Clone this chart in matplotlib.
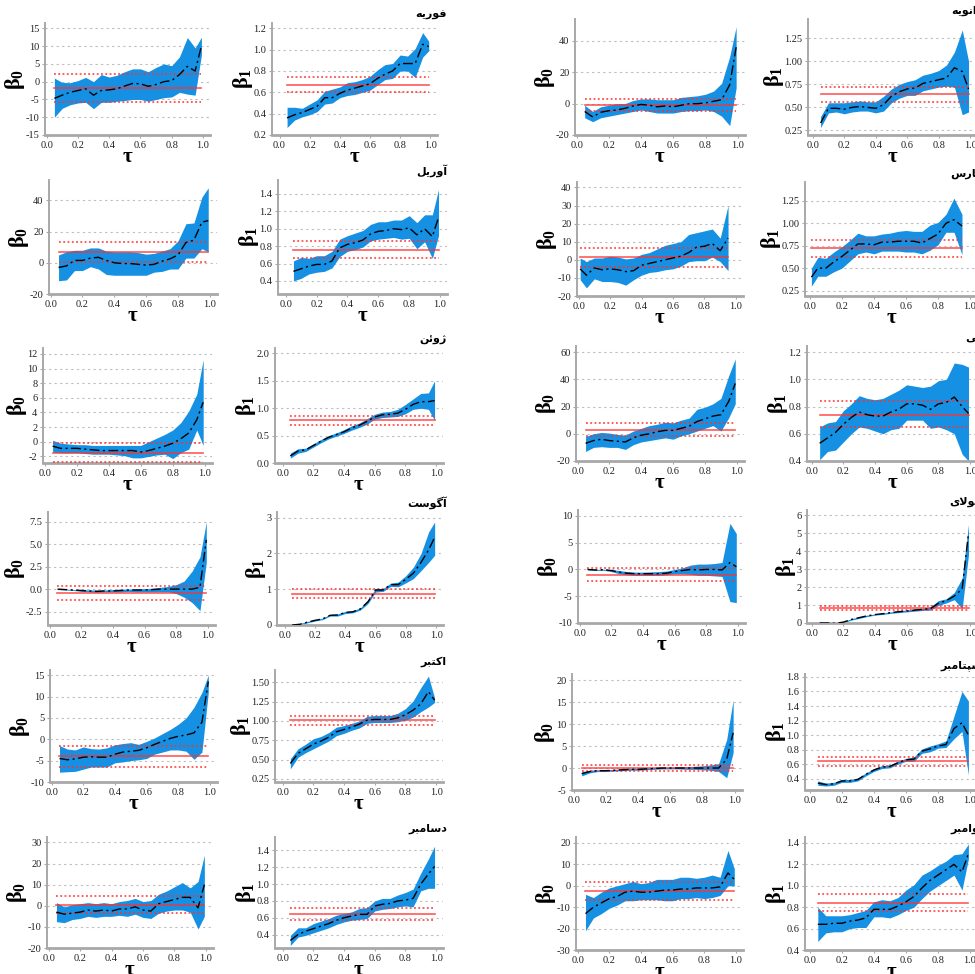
import numpy as np
import matplotlib.pyplot as plt

plt.rcParams["font.family"] = "Liberation Serif"
plt.rcParams["mathtext.fontset"] = "custom"
plt.rcParams["mathtext.rm"] = "Liberation Serif"
plt.rcParams["mathtext.bf"] = "Liberation Serif:bold"
plt.rcParams["mathtext.it"] = "Liberation Serif:italic"

# quantile grid
taus = [0.05, 0.10, 0.15, 0.20, 0.25, 0.30, 0.35, 0.40, 0.45, 0.50,
        0.55, 0.60, 0.65, 0.70, 0.75, 0.80, 0.85, 0.90, 0.95, 0.99]
taus_mar = [0.01, 0.05, 0.10, 0.15, 0.20, 0.25, 0.30, 0.35, 0.40, 0.45,
            0.50, 0.55, 0.60, 0.65, 0.70, 0.75, 0.80, 0.85, 0.90, 0.95]

# month names (Arabic presentation forms, visual order)
month_names = {
    "jan": "\uFEEA\uFEF3\uFEEE\uFEE7\uFE8D\uFB8A",
    "feb": "\uFEEA\uFEF3\uFEAD\uFEEE\uFED3",
    "mar": "\uFEB1\uFEAD\uFE8E\uFEE3",
    "apr": "\uFEDE\uFEF3\uFEAD\uFEED\uFE81",
    "may": "\uFEF0\uFEE3",
    "jun": "\uFEE6\uFE8B\uFEED\uFB8A",
    "jul": "\uFEEF\uFEFB\uFEEE\uFE9F",
    "aug": "\uFE96\uFEB3\uFEEE\uFB94\uFE81",
    "sep": "\uFEAE\uFE92\uFEE3\uFE8E\uFE98\uFB59\uFEB3",
    "oct": "\uFEAE\uFE92\uFE98\uFB90\uFE8D",
    "nov": "\uFEAE\uFE92\uFEE3\uFE8D\uFEEE\uFEE7",
    "dec": "\uFEAE\uFE92\uFEE3\uFE8E\uFEB3\uFEA9",
}

# quantile estimates, lower / upper bands, OLS [estimate, lower, upper]
feb_b0_q = [-4.7, -3.8, -3.0, -2.5, -2.0, -3.8, -2.5, -2.3, -2.0, -1.2, -0.5, -0.6, -1.3, -0.8, 0.0, 0.3, 2.0, 4.3, 3.0, 10.0]
feb_b0_lo = [-10.0, -7.5, -6.5, -6.0, -5.8, -7.6, -5.8, -5.8, -5.5, -5.3, -5.0, -5.0, -5.5, -5.0, -4.5, -4.3, -3.0, -3.5, -3.8, 7.5]
feb_b0_hi = [1.0, -0.2, -0.3, 0.3, 1.2, 0.0, 2.0, 1.3, 1.8, 2.8, 3.6, 3.6, 2.8, 4.0, 5.0, 4.5, 7.0, 12.4, 9.5, 12.5]
feb_b0_ols = [-1.8, -5.6, 2.2]

feb_b1_q = [0.36, 0.39, 0.41, 0.44, 0.47, 0.55, 0.55, 0.59, 0.62, 0.64, 0.66, 0.68, 0.73, 0.77, 0.80, 0.87, 0.87, 0.87, 1.05, 1.03]
feb_b1_lo = [0.27, 0.34, 0.37, 0.39, 0.42, 0.49, 0.50, 0.55, 0.57, 0.58, 0.60, 0.62, 0.67, 0.72, 0.73, 0.80, 0.80, 0.74, 0.93, 0.99]
feb_b1_hi = [0.46, 0.46, 0.45, 0.49, 0.53, 0.61, 0.63, 0.65, 0.69, 0.70, 0.72, 0.75, 0.81, 0.86, 0.87, 0.95, 0.94, 1.01, 1.16, 1.08]
feb_b1_ols = [0.67, 0.60, 0.74]

jan_b0_q = [-5.0, -8.5, -5.5, -4.5, -4.0, -3.0, -1.5, -0.5, -1.0, -2.0, -1.5, -2.0, -1.0, 0.0, 0.0, 0.5, 1.5, 2.5, 12.0, 36.0]
jan_b0_lo = [-9.0, -11.5, -9.0, -8.0, -7.0, -6.0, -5.0, -4.0, -5.0, -6.0, -6.0, -6.0, -5.0, -4.5, -4.5, -4.0, -5.0, -8.0, -14.0, 10.0]
jan_b0_hi = [-1.0, -5.0, -2.0, -1.0, 0.0, 0.0, 2.0, 3.0, 3.0, 2.5, 2.5, 2.5, 4.0, 4.5, 5.0, 6.0, 8.0, 13.0, 30.0, 49.0]
jan_b0_ols = [-1.0, -5.0, 3.0]

jan_b1_q = [0.33, 0.49, 0.49, 0.48, 0.50, 0.51, 0.50, 0.49, 0.53, 0.62, 0.67, 0.70, 0.71, 0.76, 0.78, 0.80, 0.82, 0.93, 0.89, 0.70]
jan_b1_lo = [0.28, 0.44, 0.45, 0.43, 0.45, 0.46, 0.46, 0.44, 0.46, 0.55, 0.60, 0.63, 0.63, 0.68, 0.70, 0.72, 0.73, 0.72, 0.42, 0.45]
jan_b1_hi = [0.40, 0.55, 0.55, 0.55, 0.56, 0.57, 0.56, 0.56, 0.62, 0.70, 0.75, 0.78, 0.80, 0.85, 0.87, 0.90, 0.96, 1.10, 1.34, 1.00]
jan_b1_ols = [0.64, 0.56, 0.72]

apr_b0_q = [-3.0, -2.0, 1.5, 1.5, 3.0, 3.5, 1.5, 0.0, -0.5, -0.5, -1.0, -1.5, -1.0, 1.0, 2.5, 5.0, 13.0, 14.5, 26.0, 27.0]
apr_b0_lo = [-11.5, -11.0, -5.0, -5.0, -2.5, -4.0, -7.5, -8.0, -8.0, -8.0, -8.0, -8.0, -6.0, -5.5, -4.0, -4.0, 3.0, 3.0, 9.0, 7.0]
apr_b0_hi = [5.0, 7.0, 8.0, 8.0, 9.5, 9.5, 7.5, 7.0, 7.0, 7.0, 6.5, 5.5, 6.0, 7.5, 9.0, 14.0, 25.0, 25.5, 42.0, 48.0]
apr_b0_ols = [7.0, 0.5, 13.5]

apr_b1_q = [0.51, 0.54, 0.57, 0.59, 0.59, 0.63, 0.78, 0.82, 0.84, 0.87, 0.94, 0.97, 0.98, 1.00, 0.99, 1.01, 0.93, 1.00, 0.91, 1.13]
apr_b1_lo = [0.40, 0.43, 0.48, 0.50, 0.51, 0.55, 0.68, 0.74, 0.76, 0.79, 0.86, 0.88, 0.89, 0.90, 0.88, 0.89, 0.77, 0.85, 0.66, 0.92]
apr_b1_hi = [0.63, 0.67, 0.66, 0.69, 0.69, 0.74, 0.88, 0.92, 0.95, 0.98, 1.05, 1.08, 1.08, 1.10, 1.10, 1.15, 1.07, 1.16, 1.16, 1.45]
apr_b1_ols = [0.76, 0.66, 0.86]

mar_b0_q = [-5.0, -8.5, -4.5, -5.5, -5.0, -5.5, -6.5, -6.0, -3.0, -2.0, -1.0, 0.0, 1.0, 2.0, 4.0, 7.0, 7.5, 9.0, 5.0, 12.0]
mar_b0_lo = [-11.0, -15.5, -10.5, -12.0, -12.0, -12.5, -14.0, -11.0, -8.5, -7.0, -6.5, -5.5, -5.0, -3.5, -1.0, -0.5, -0.5, 1.5, -1.0, -6.0]
mar_b0_hi = [1.0, -1.0, 1.0, 1.0, 2.0, 1.5, 0.5, 1.0, 3.0, 4.0, 6.0, 8.0, 9.0, 10.0, 14.0, 15.0, 16.0, 17.0, 12.0, 30.0]
mar_b0_ols = [1.3, -4.0, 6.5]

mar_b1_q = [0.40, 0.50, 0.50, 0.57, 0.63, 0.70, 0.77, 0.77, 0.76, 0.79, 0.79, 0.80, 0.80, 0.80, 0.78, 0.83, 0.88, 1.00, 1.04, 0.97]
mar_b1_lo = [0.30, 0.41, 0.41, 0.46, 0.50, 0.58, 0.66, 0.68, 0.66, 0.69, 0.69, 0.69, 0.68, 0.68, 0.66, 0.70, 0.76, 0.90, 0.90, 0.65]
mar_b1_hi = [0.50, 0.62, 0.61, 0.68, 0.74, 0.81, 0.89, 0.86, 0.86, 0.88, 0.89, 0.91, 0.92, 0.91, 0.91, 0.98, 1.01, 1.10, 1.28, 1.10]
mar_b1_ols = [0.72, 0.63, 0.81]

jun_b0_q = [-0.6, -0.9, -0.9, -0.9, -1.0, -1.1, -1.2, -1.2, -1.2, -1.2, -1.2, -1.4, -1.2, -0.9, -0.6, -0.2, 0.4, 1.2, 3.0, 5.4]
jun_b0_lo = [-1.4, -1.5, -1.5, -1.5, -1.6, -1.7, -1.7, -1.7, -1.8, -1.9, -2.2, -2.2, -2.0, -1.8, -1.7, -2.3, -1.5, -1.0, 1.6, -0.5]
jun_b0_hi = [0.2, -0.2, -0.3, -0.4, -0.4, -0.5, -0.5, -0.5, -0.5, -0.5, -0.5, -0.5, 0.0, 0.5, 1.0, 1.6, 2.6, 4.2, 6.5, 11.2]
jun_b0_ols = [-1.5, -2.7, -0.2]

jun_b1_q = [0.13, 0.22, 0.24, 0.32, 0.40, 0.47, 0.52, 0.57, 0.64, 0.69, 0.76, 0.84, 0.88, 0.89, 0.91, 0.98, 1.07, 1.12, 1.12, 1.14]
jun_b1_lo = [0.09, 0.18, 0.21, 0.29, 0.37, 0.44, 0.49, 0.54, 0.60, 0.65, 0.71, 0.80, 0.83, 0.84, 0.85, 0.90, 0.98, 1.00, 0.98, 0.78]
jun_b1_hi = [0.18, 0.26, 0.27, 0.35, 0.43, 0.50, 0.55, 0.61, 0.68, 0.73, 0.81, 0.89, 0.93, 0.94, 0.98, 1.07, 1.17, 1.27, 1.28, 1.50]
jun_b1_ols = [0.78, 0.70, 0.86]

may_b0_q = [-7.0, -5.0, -4.0, -5.0, -5.5, -6.0, -3.0, -1.0, 0.0, 1.5, 2.5, 2.5, 4.0, 5.5, 9.0, 11.0, 13.0, 14.0, 24.0, 37.0]
may_b0_lo = [-13.0, -10.0, -9.5, -10.0, -10.0, -11.5, -8.0, -6.0, -5.0, -4.0, -3.0, -4.0, -1.5, 0.0, 2.0, 4.0, 6.0, 2.0, 12.0, 22.0]
may_b0_hi = [-2.0, 0.0, 1.0, 0.5, -0.5, -1.0, 2.0, 4.0, 6.0, 7.0, 8.5, 8.0, 10.0, 11.5, 18.0, 19.5, 22.0, 26.0, 43.0, 55.0]
may_b0_ols = [3.0, -1.5, 8.0]

may_b1_q = [0.53, 0.57, 0.61, 0.67, 0.72, 0.76, 0.74, 0.73, 0.73, 0.76, 0.78, 0.82, 0.82, 0.81, 0.78, 0.82, 0.83, 0.87, 0.80, 0.75]
may_b1_lo = [0.41, 0.47, 0.48, 0.54, 0.60, 0.65, 0.64, 0.62, 0.60, 0.63, 0.64, 0.70, 0.70, 0.70, 0.64, 0.65, 0.63, 0.60, 0.45, 0.40]
may_b1_hi = [0.65, 0.68, 0.69, 0.77, 0.82, 0.88, 0.86, 0.85, 0.86, 0.89, 0.92, 0.96, 0.95, 0.94, 0.95, 0.99, 1.00, 1.12, 1.11, 1.09]
may_b1_ols = [0.74, 0.65, 0.84]

aug_b0_q = [0.0, -0.05, -0.1, -0.15, -0.2, -0.25, -0.2, -0.2, -0.15, -0.1, -0.1, -0.1, -0.05, 0.0, 0.0, 0.0, 0.0, 0.0, 0.2, 5.5]
aug_b0_lo = [-0.05, -0.1, -0.15, -0.25, -0.3, -0.35, -0.3, -0.3, -0.3, -0.25, -0.3, -0.3, -0.3, -0.3, -0.3, -0.5, -0.9, -1.5, -2.4, 3.0]
aug_b0_hi = [0.05, 0.0, -0.05, -0.05, -0.1, -0.1, -0.1, -0.05, 0.0, 0.0, 0.05, 0.05, 0.1, 0.2, 0.3, 0.5, 0.9, 2.0, 3.6, 7.5]
aug_b0_ols = [-0.4, -1.2, 0.35]

aug_b1_q = [0.0, 0.02, 0.08, 0.13, 0.17, 0.27, 0.28, 0.35, 0.37, 0.45, 0.65, 0.98, 0.98, 1.13, 1.13, 1.28, 1.45, 1.75, 2.10, 2.45]
aug_b1_lo = [-0.01, 0.0, 0.06, 0.11, 0.15, 0.25, 0.25, 0.32, 0.34, 0.42, 0.60, 0.92, 0.94, 1.08, 1.07, 1.18, 1.30, 1.52, 1.75, 1.95]
aug_b1_hi = [0.01, 0.04, 0.10, 0.15, 0.19, 0.30, 0.31, 0.38, 0.40, 0.48, 0.70, 1.02, 1.02, 1.17, 1.20, 1.38, 1.62, 2.00, 2.60, 2.88]
aug_b1_ols = [0.88, 0.76, 1.00]

jul_b0_q = [0.0, -0.1, -0.05, -0.2, -0.5, -0.7, -0.8, -0.8, -0.8, -0.8, -0.7, -0.4, -0.2, 0.0, -0.1, 0.0, 0.0, -0.1, 1.3, 0.5]
jul_b0_lo = [-0.1, -0.2, -0.15, -0.4, -0.8, -1.0, -1.1, -1.1, -1.1, -1.1, -1.0, -0.8, -0.8, -0.9, -1.1, -1.1, -1.2, -1.3, -6.0, -6.2]
jul_b0_hi = [0.1, 0.0, 0.05, -0.05, -0.2, -0.4, -0.5, -0.5, -0.45, -0.4, -0.3, 0.0, 0.3, 0.8, 1.0, 1.0, 1.1, 1.3, 8.6, 6.7]
jul_b0_ols = [-1.0, -2.2, 0.2]

jul_b1_q = [0.0, 0.0, -0.02, 0.05, 0.20, 0.30, 0.40, 0.47, 0.52, 0.58, 0.63, 0.67, 0.72, 0.76, 0.80, 1.10, 1.25, 1.50, 1.90, 5.0]
jul_b1_lo = [-0.01, -0.01, -0.04, 0.02, 0.16, 0.26, 0.36, 0.44, 0.48, 0.54, 0.58, 0.62, 0.66, 0.70, 0.72, 0.98, 1.12, 1.30, 0.80, 3.8]
jul_b1_hi = [0.01, 0.01, 0.0, 0.08, 0.24, 0.34, 0.44, 0.50, 0.56, 0.62, 0.68, 0.72, 0.77, 0.82, 0.90, 1.25, 1.35, 1.70, 2.50, 5.5]
jul_b1_ols = [0.82, 0.70, 0.97]

oct_b0_q = [-4.5, -4.8, -4.6, -4.2, -4.1, -4.2, -4.2, -3.5, -3.0, -2.8, -2.6, -2.0, -1.2, -0.5, 0.2, 0.7, 1.0, 1.5, 4.0, 13.5]
oct_b0_lo = [-7.7, -7.6, -7.5, -7.0, -6.5, -6.5, -6.5, -5.5, -5.3, -5.0, -4.8, -4.5, -3.5, -3.0, -2.5, -2.5, -2.8, -4.7, -3.0, 11.0]
oct_b0_hi = [-1.5, -2.3, -2.5, -1.8, -2.2, -2.3, -2.0, -1.3, -1.0, -0.8, -1.2, -0.5, 0.3, 1.3, 2.3, 3.5, 5.0, 7.5, 11.0, 15.0]
oct_b0_ols = [-3.9, -6.4, -1.6]

oct_b1_q = [0.45, 0.58, 0.64, 0.70, 0.74, 0.79, 0.86, 0.89, 0.92, 0.96, 1.01, 1.02, 1.02, 1.02, 1.04, 1.08, 1.14, 1.22, 1.38, 1.27]
oct_b1_lo = [0.38, 0.53, 0.59, 0.64, 0.69, 0.74, 0.81, 0.84, 0.88, 0.91, 0.97, 0.98, 0.98, 0.98, 0.99, 1.01, 1.05, 1.12, 1.18, 1.24]
oct_b1_hi = [0.51, 0.64, 0.70, 0.77, 0.80, 0.85, 0.92, 0.94, 0.97, 1.00, 1.06, 1.07, 1.07, 1.07, 1.10, 1.16, 1.26, 1.43, 1.58, 1.30]
oct_b1_ols = [1.01, 0.95, 1.07]

sep_b0_q = [-1.3, -0.8, -0.6, -0.6, -0.5, -0.4, -0.3, -0.3, -0.2, -0.1, 0.0, 0.0, 0.0, 0.0, 0.0, 0.0, 0.0, 0.0, 2.0, 8.0]
sep_b0_lo = [-1.8, -1.1, -0.8, -0.8, -0.7, -0.6, -0.5, -0.5, -0.4, -0.3, -0.2, -0.2, -0.2, -0.3, -0.3, -0.4, -0.5, -0.8, -2.2, 3.5]
sep_b0_hi = [-0.8, -0.5, -0.4, -0.4, -0.3, -0.2, -0.1, -0.1, 0.0, 0.1, 0.1, 0.2, 0.2, 0.3, 0.4, 0.5, 0.7, 1.0, 6.5, 15.5]
sep_b0_ols = [0.1, -0.6, 0.7]

sep_b1_q = [0.34, 0.32, 0.33, 0.37, 0.37, 0.39, 0.46, 0.52, 0.56, 0.57, 0.62, 0.66, 0.67, 0.78, 0.81, 0.85, 0.87, 1.09, 1.17, 1.00]
sep_b1_lo = [0.31, 0.30, 0.31, 0.35, 0.35, 0.37, 0.44, 0.50, 0.54, 0.55, 0.60, 0.64, 0.64, 0.75, 0.77, 0.82, 0.83, 0.95, 1.05, 0.45]
sep_b1_hi = [0.37, 0.34, 0.35, 0.39, 0.39, 0.41, 0.48, 0.54, 0.58, 0.59, 0.64, 0.68, 0.70, 0.81, 0.85, 0.88, 0.92, 1.26, 1.60, 1.47]
sep_b1_ols = [0.64, 0.57, 0.70]

dec_b0_q = [-3.0, -4.0, -3.5, -3.0, -2.0, -2.5, -2.0, -2.5, -1.5, -1.5, -0.5, -2.0, -2.5, 1.0, 2.0, 3.0, 4.0, 4.0, -1.0, 10.0]
dec_b0_lo = [-7.5, -8.0, -6.5, -6.0, -5.0, -5.5, -5.0, -5.0, -4.5, -5.0, -4.0, -5.5, -6.0, -3.5, -2.5, -2.0, -2.0, -3.0, -11.0, -5.0]
dec_b0_hi = [1.5, -0.5, 0.5, 1.0, 1.5, 1.0, 1.5, 1.0, 2.0, 2.5, 3.5, 2.0, 2.5, 5.5, 7.0, 9.0, 11.0, 8.5, 11.5, 24.0]
dec_b0_ols = [0.5, -3.3, 4.8]

dec_b1_q = [0.33, 0.40, 0.44, 0.47, 0.50, 0.53, 0.57, 0.60, 0.62, 0.64, 0.64, 0.74, 0.76, 0.77, 0.80, 0.81, 0.83, 1.00, 1.12, 1.21]
dec_b1_lo = [0.27, 0.37, 0.39, 0.42, 0.45, 0.48, 0.52, 0.55, 0.57, 0.58, 0.59, 0.68, 0.70, 0.71, 0.73, 0.74, 0.73, 0.92, 0.95, 0.95]
dec_b1_hi = [0.39, 0.48, 0.48, 0.53, 0.56, 0.59, 0.63, 0.65, 0.67, 0.71, 0.72, 0.80, 0.83, 0.83, 0.87, 0.90, 0.94, 1.13, 1.30, 1.45]
dec_b1_ols = [0.64, 0.57, 0.71]

nov_b0_q = [-13.0, -10.0, -8.0, -6.0, -5.0, -3.0, -2.5, -3.0, -3.0, -2.5, -2.0, -2.0, -1.5, -1.5, -1.0, -1.0, -1.0, -0.5, 6.0, 3.0]
nov_b0_lo = [-21.0, -15.0, -13.0, -10.5, -9.0, -7.0, -7.0, -6.5, -6.5, -6.5, -7.0, -7.0, -6.0, -6.0, -5.5, -6.0, -5.5, -4.5, 0.0, 0.0]
nov_b0_hi = [-4.0, -5.5, -3.0, -1.0, 0.0, 1.0, 2.0, 1.0, 1.5, 3.0, 3.0, 3.0, 4.0, 4.0, 3.5, 4.0, 5.0, 4.0, 16.5, 8.0]
nov_b0_ols = [-2.3, -6.5, 2.0]

nov_b1_q = [0.64, 0.64, 0.65, 0.65, 0.67, 0.68, 0.70, 0.78, 0.78, 0.78, 0.81, 0.85, 0.90, 0.98, 1.05, 1.10, 1.15, 1.20, 1.13, 1.30]
nov_b1_lo = [0.48, 0.56, 0.57, 0.57, 0.60, 0.61, 0.61, 0.71, 0.71, 0.70, 0.73, 0.77, 0.80, 0.88, 0.95, 1.00, 1.05, 1.10, 0.96, 1.25]
nov_b1_hi = [0.80, 0.72, 0.72, 0.72, 0.73, 0.75, 0.77, 0.85, 0.87, 0.86, 0.89, 0.96, 1.01, 1.10, 1.14, 1.19, 1.23, 1.29, 1.30, 1.39]
nov_b1_ols = [0.84, 0.76, 0.92]

BLUE = "#1590e2"
RED = "#ff3030"
GRID = "#bdbdbd"
SPINE = "#a8a8a8"

W, H = 975, 974
fig = plt.figure(figsize=(W / 100, H / 100), dpi=100)


def px_axes(x0, y0, x1, y1):
    return fig.add_axes([x0 / W, 1 - y1 / H, (x1 - x0) / W, (y1 - y0) / H])


def draw_panel(ax, t, q, lo, hi, ols, ylim, yticks, fmt, sub, xlim):
    ax.fill_between(t, lo, hi, color=BLUE, lw=0, zorder=2)
    ax.plot([t[0], t[-1]], [ols[0], ols[0]], color=RED, lw=1.2, alpha=0.8, zorder=3)
    for v in ols[1:]:
        ax.plot([t[0], t[-1]], [v, v], color=RED, lw=1.1, ls=(0, (1.2, 1.6)), zorder=3)
    ax.plot(t, q, color="black", lw=1.0, ls=(0, (7, 2.5, 1.5, 2.5)), zorder=4)

    ax.set_xlim(*xlim)
    ax.set_ylim(*ylim)
    xt = [0.0, 0.2, 0.4, 0.6, 0.8, 1.0]
    ax.set_xticks(xt)
    ax.set_xticklabels(["%.1f" % v for v in xt])
    ax.set_yticks(yticks)
    ax.set_yticklabels([fmt % v for v in yticks])
    ax.yaxis.grid(True, color=GRID, ls=(0, (2, 3)), lw=0.8)
    ax.set_axisbelow(True)
    for s in ("top", "right"):
        ax.spines[s].set_visible(False)
    ax.spines["left"].set_color(SPINE)
    ax.spines["left"].set_linewidth(1.4)
    ax.spines["bottom"].set_color(SPINE)
    ax.spines["bottom"].set_linewidth(2.0)
    ax.tick_params(length=2, width=0.8, color=SPINE, labelsize=7.5,
                   labelcolor="#222222", pad=2)
    ax.set_xlabel(r"$\mathbf{\tau}$", fontsize=15, labelpad=-1)
    ax.set_ylabel(r"$\mathbf{\beta}_{\mathbf{%d}}$" % sub, fontsize=16, labelpad=-1)


# pixel boxes of each column per row (left, right)
col_x = [
    [(45, 210), (49, 217), (43, 212), (48, 215), (50, 217), (47, 213)],
    [(272, 437), (278, 447), (275, 443), (277, 443), (275, 443), (275, 443)],
    [(575, 745), (577, 743), (576, 744), (578, 745), (572, 742), (576, 743)],
    [(808, 978), (805, 978), (807, 978), (807, 978), (805, 978), (805, 978)],
]
rows_left = [(23, 135), (180, 294), (348, 463), (512, 625), (670, 782), (837, 948)]
rows_right = [(19, 135), (182, 296), (346, 461), (510, 623), (674, 790), (837, 950)]
col_xlim = [(-0.01, 1.045), (-0.05, 1.045), (-0.01, 1.045), (-0.03, 1.05)]

i25 = [0.25, 0.50, 0.75, 1.00, 1.25]
panels = [
    # row, col, month, taus, q, lo, hi, ols, ylim, yticks, fmt, sub
    (0, 0, "feb", taus, feb_b0_q, feb_b0_lo, feb_b0_hi, feb_b0_ols, (-15, 16.5), [-15, -10, -5, 0, 5, 10, 15], "%d", 0),
    (0, 1, "feb", taus, feb_b1_q, feb_b1_lo, feb_b1_hi, feb_b1_ols, (0.2, 1.25), [0.2, 0.4, 0.6, 0.8, 1.0, 1.2], "%.1f", 1),
    (0, 2, "jan", taus, jan_b0_q, jan_b0_lo, jan_b0_hi, jan_b0_ols, (-20, 54), [-20, 0, 20, 40], "%d", 0),
    (0, 3, "jan", taus, jan_b1_q, jan_b1_lo, jan_b1_hi, jan_b1_ols, (0.2, 1.46), i25, "%.2f", 1),
    (1, 0, "apr", taus, apr_b0_q, apr_b0_lo, apr_b0_hi, apr_b0_ols, (-20, 53), [-20, 0, 20, 40], "%d", 0),
    (1, 1, "apr", taus, apr_b1_q, apr_b1_lo, apr_b1_hi, apr_b1_ols, (0.25, 1.56), [0.4, 0.6, 0.8, 1.0, 1.2, 1.4], "%.1f", 1),
    (1, 2, "mar", taus_mar, mar_b0_q, mar_b0_lo, mar_b0_hi, mar_b0_ols, (-20, 43), [-20, -10, 0, 10, 20, 30, 40], "%d", 0),
    (1, 3, "mar", taus_mar, mar_b1_q, mar_b1_lo, mar_b1_hi, mar_b1_ols, (0.19, 1.46), i25, "%.2f", 1),
    (2, 0, "jun", taus, jun_b0_q, jun_b0_lo, jun_b0_hi, jun_b0_ols, (-2.9, 12.8), [-2, 0, 2, 4, 6, 8, 10, 12], "%d", 0),
    (2, 1, "jun", taus, jun_b1_q, jun_b1_lo, jun_b1_hi, jun_b1_ols, (0.0, 2.1), [0.0, 0.5, 1.0, 1.5, 2.0], "%.1f", 1),
    (2, 2, "may", taus, may_b0_q, may_b0_lo, may_b0_hi, may_b0_ols, (-20, 64.5), [-20, 0, 20, 40, 60], "%d", 0),
    (2, 3, "may", taus, may_b1_q, may_b1_lo, may_b1_hi, may_b1_ols, (0.4, 1.245), [0.4, 0.6, 0.8, 1.0, 1.2], "%.1f", 1),
    (3, 0, "aug", taus, aug_b0_q, aug_b0_lo, aug_b0_hi, aug_b0_ols, (-4.0, 8.6), [-2.5, 0.0, 2.5, 5.0, 7.5], "%.1f", 0),
    (3, 1, "aug", taus, aug_b1_q, aug_b1_lo, aug_b1_hi, aug_b1_ols, (0.0, 3.16), [0, 1, 2, 3], "%d", 1),
    (3, 2, "jul", taus, jul_b0_q, jul_b0_lo, jul_b0_hi, jul_b0_ols, (-10, 11.1), [-10, -5, 0, 5, 10], "%d", 0),
    (3, 3, "jul", taus, jul_b1_q, jul_b1_lo, jul_b1_hi, jul_b1_ols, (0.0, 6.3), [0, 1, 2, 3, 4, 5, 6], "%d", 1),
    (4, 0, "oct", taus, oct_b0_q, oct_b0_lo, oct_b0_hi, oct_b0_ols, (-10, 16.2), [-10, -5, 0, 5, 10, 15], "%d", 0),
    (4, 1, "oct", taus, oct_b1_q, oct_b1_lo, oct_b1_hi, oct_b1_ols, (0.21, 1.66), [0.25, 0.50, 0.75, 1.00, 1.25, 1.50], "%.2f", 1),
    (4, 2, "sep", taus, sep_b0_q, sep_b0_lo, sep_b0_hi, sep_b0_ols, (-5, 21.4), [-5, 0, 5, 10, 15, 20], "%d", 0),
    (4, 3, "sep", taus, sep_b1_q, sep_b1_lo, sep_b1_hi, sep_b1_ols, (0.245, 1.84), [0.4, 0.6, 0.8, 1.0, 1.2, 1.4, 1.6, 1.8], "%.1f", 1),
    (5, 0, "dec", taus, dec_b0_q, dec_b0_lo, dec_b0_hi, dec_b0_ols, (-20, 32.6), [-20, -10, 0, 10, 20, 30], "%d", 0),
    (5, 1, "dec", taus, dec_b1_q, dec_b1_lo, dec_b1_hi, dec_b1_ols, (0.24, 1.56), [0.4, 0.6, 0.8, 1.0, 1.2, 1.4], "%.1f", 1),
    (5, 2, "nov", taus, nov_b0_q, nov_b0_lo, nov_b0_hi, nov_b0_ols, (-30, 22.8), [-30, -20, -10, 0, 10, 20], "%d", 0),
    (5, 3, "nov", taus, nov_b1_q, nov_b1_lo, nov_b1_hi, nov_b1_ols, (0.4, 1.456), [0.4, 0.6, 0.8, 1.0, 1.2, 1.4], "%.1f", 1),
]

for row, col, month, t, q, lo, hi, ols, ylim, yticks, fmt, sub in panels:
    x0, x1 = col_x[col][row]
    y0, y1 = (rows_left if col < 2 else rows_right)[row]
    ax = px_axes(x0, y0, x1, y1)
    draw_panel(ax, t, q, lo, hi, ols, ylim, yticks, fmt, sub, col_xlim[col])
    if col in (1, 3):
        # month name above the slope panel, right aligned
        tx = 447 if col == 1 else 983
        fig.text(tx / W, 1 - (y0 - 3) / H, month_names[month], ha="right", va="bottom",
                 fontsize=8, fontweight="bold", family="DejaVu Sans")

fig.savefig("out.png", dpi=100)
